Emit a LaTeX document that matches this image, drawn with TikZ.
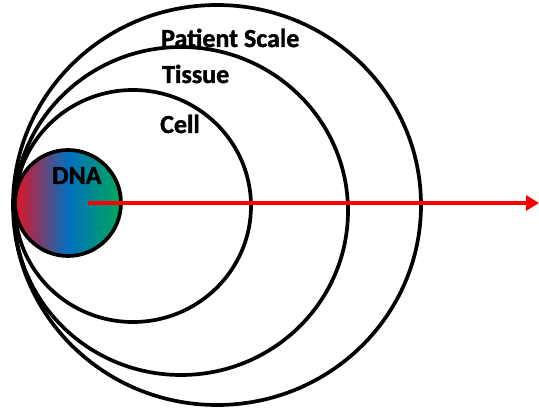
\documentclass[tikz,border=0pt]{standalone}
\usepackage{fontspec}
\newfontfamily\scalefont{Carlito}[UprightFont={* Bold},FakeBold=1.5]
\usetikzlibrary{arrows.meta,positioning}
\definecolor{dnared}{RGB}{228,18,36}
\definecolor{dnablue}{RGB}{0,112,192}
\definecolor{dnagreen}{RGB}{0,168,88}
\tikzset{
  ring/.style={draw=black,line width=3.7pt},
  scalelabel/.style={anchor=base west,inner sep=0pt,font=\scalefont\fontsize{26}{31}\selectfont},
}

\begin{document}
\begin{tikzpicture}[x=1pt,y=-1pt]
	\path[use as bounding box] (0,0) rectangle (539,411);
	\draw[ring] (217,205) ellipse [x radius=204,y radius=200];
	\draw[ring] (181,211) ellipse [x radius=167,y radius=164];
	\draw[ring] (133,206) ellipse [x radius=118,y radius=116];
	\node[circle,ring,inner sep=0pt,minimum size=106pt,
		left color=dnared,right color=dnagreen,middle color=dnablue] (dna) at (68,203) {};
	\coordinate (tail) at (88,203);
	\coordinate (tip) at (539,203);
	\draw[red,line width=4.5pt,-{Triangle[length=13pt,width=15pt]}] (tail) -- (tip);
	\node[scalelabel] (patient) at (161,47) {Patient Scale};
	\node[scalelabel] (tissue) at (162,83) {Tissue};
	\node[scalelabel] (cell) at (160,133) {Cell};
	\node[scalelabel] (dnalabel) at (52,184) {DNA};
\end{tikzpicture}
\end{document}
